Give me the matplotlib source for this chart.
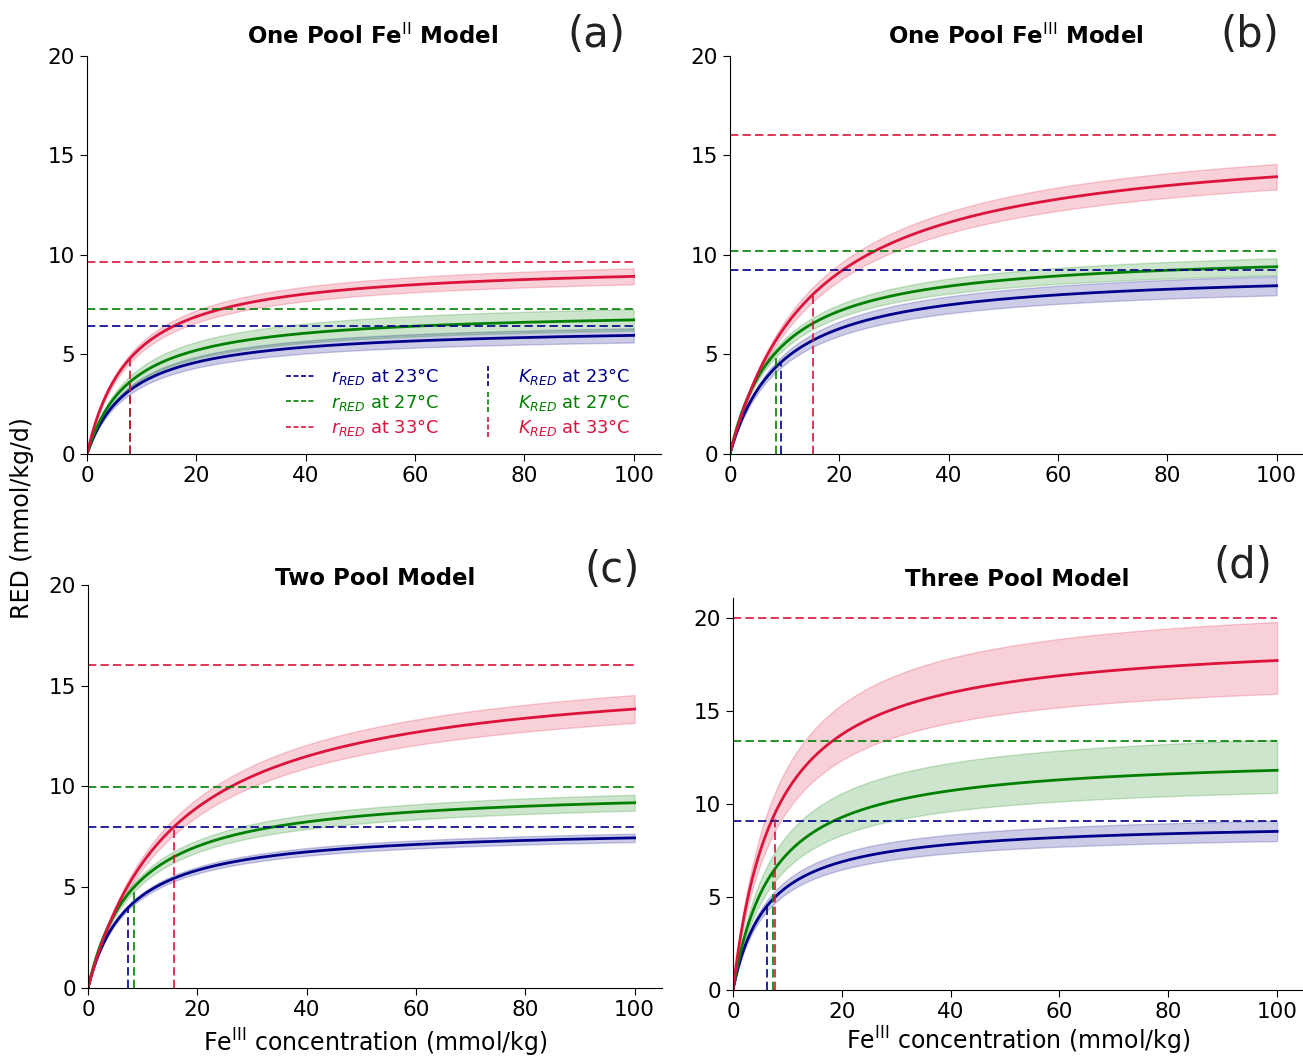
import numpy as np
import matplotlib
matplotlib.use("Agg")
import matplotlib.pyplot as plt
from matplotlib.lines import Line2D
from matplotlib.legend_handler import HandlerBase

# ---- data ----------------------------------------------------------------
temps = ["23", "27", "33"]
colors = ["darkblue", "green", "crimson"]
panels = ["(a)", "(b)", "(c)", "(d)"]
titles = [r"One Pool Fe$^{\rm II}$ Model", r"One Pool Fe$^{\rm III}$ Model",
          "Two Pool Model", "Three Pool Model"]

# r_RED (horizontal dashed lines), per panel: 23, 27, 33 C
r_line = [[6.43, 7.27, 9.63],
          [9.25, 10.2, 16.05],
          [8.0, 9.96, 16.03],
          [9.07, 13.38, 20.0]]
# K_RED (vertical dashed lines)
k_line = [[7.9, 7.9, 7.9],
          [9.4, 8.4, 15.2],
          [7.4, 8.35, 15.8],
          [6.3, 7.3, 7.8]]
# saturation of the drawn median curve
r_curve = [[6.43, 7.27, 9.63],
           [9.25, 10.2, 16.05],
           [8.0, 9.96, 16.03],
           [9.06, 12.67, 19.09]]
# uncertainty band, as fraction of the median curve
band_lo = [[0.94, 0.92, 0.955],
           [0.943, 0.955, 0.954],
           [0.972, 0.957, 0.95],
           [0.939, 0.897, 0.899]]
band_hi = [[1.06, 1.08, 1.045],
           [1.057, 1.045, 1.046],
           [1.028, 1.043, 1.05],
           [1.067, 1.139, 1.117]]

conc = np.linspace(0, 100, 401)


def mm(r, k, x):
    return r * x / (k + x)


class VDash(HandlerBase):
    # vertical dashed handle for the K entries
    def create_artists(self, legend, orig, xd, yd, w, h, fontsize, trans):
        ln = Line2D([-xd + w / 2] * 2, [-yd - 0.35 * h, -yd + 1.35 * h],
                    color=orig.get_color(), lw=orig.get_linewidth(),
                    dashes=(3, 1.5))
        ln.set_transform(trans)
        return [ln]


plt.rcParams["font.family"] = ["DejaVu Sans"]
fig = plt.figure(figsize=(13.03, 10.58), dpi=100)

pos = [[0.0668, 0.5709, 0.4405, 0.3762],
       [0.5602, 0.5709, 0.4405, 0.3762],
       [0.0675, 0.0662, 0.4405, 0.3809],
       [0.5625, 0.0643, 0.4385, 0.3705]]
title_y = [1.05, 1.05, 1.017, 1.048]
title_x = [0.497, 0.498, 0.5, 0.498]
let_xy = [(0.888, 1.053), (0.906, 1.053), (0.913, 1.037), (0.893, 1.082)]
ytop = [20, 20, 20, 21.07]
xlab_pad = [0, 0, 5, 2]

for p in range(4):
    ax = fig.add_axes(pos[p])
    for i in range(3):
        c = colors[i]
        med = mm(r_curve[p][i], k_line[p][i], conc)
        ax.fill_between(conc, med * band_lo[p][i], med * band_hi[p][i],
                        color=c, alpha=0.2)
        ax.plot(conc, med, color=c, lw=2)
    for i in range(3):
        c = colors[i]
        ax.plot([0, 100], [r_line[p][i]] * 2, color=c, lw=1.2, dashes=(5, 2.5))
        ktop = mm(r_curve[p][i], k_line[p][i], k_line[p][i])
        ax.plot([k_line[p][i]] * 2, [0, ktop], color=c, lw=1.2, dashes=(5, 2.5))

    ax.set_xlim(0, 105)
    ax.set_ylim(0, ytop[p])
    ax.set_xticks([0, 20, 40, 60, 80, 100])
    ax.set_yticks([0, 5, 10, 15, 20])
    ax.tick_params(labelsize=15.5, length=5)
    ax.spines["top"].set_visible(False)
    ax.spines["right"].set_visible(False)
    ax.text(title_x[p], title_y[p], titles[p], transform=ax.transAxes,
            ha="center", va="center", fontsize=16.5, fontweight="bold")
    ax.text(let_xy[p][0], let_xy[p][1], panels[p], transform=ax.transAxes,
            ha="center", va="center", fontsize=30, color="#222222")
    if p >= 2:
        ax.set_xlabel(r"Fe$^{\rm III}$ concentration (mmol/kg)", fontsize=17,
                      labelpad=xlab_pad[p])

    if p == 0:
        hr = [Line2D([], [], color=c, lw=1.2, dashes=(3, 1.5)) for c in colors]
        hk = [Line2D([], [], color=c, lw=1.2) for c in colors]
        labs = [r"$r_{RED}$ at " + t + "°C" for t in temps] + \
               [r"$K_{RED}$ at " + t + "°C" for t in temps]
        hmap = {h: VDash() for h in hk}
        ax.legend(hr + hk, labs, ncol=2, loc="lower right",
                  bbox_to_anchor=(0.975, 0.0), frameon=False, fontsize=12.8,
                  labelcolor="linecolor", handlelength=1.6, handletextpad=0.9,
                  columnspacing=2.0, labelspacing=0.25, handler_map=hmap)

fig.text(0.017, 0.51, "RED (mmol/kg/d)", rotation=90, va="center",
         ha="center", fontsize=17)

fig.savefig("out.png", dpi=100)
